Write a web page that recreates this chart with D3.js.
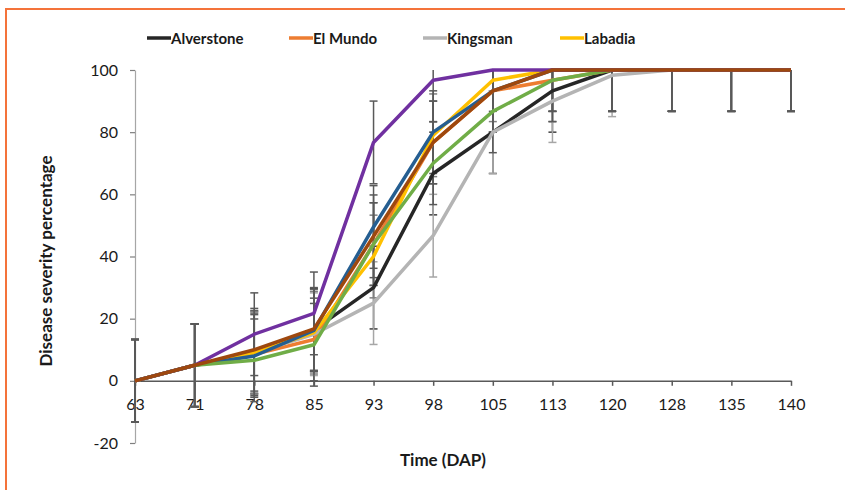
<!DOCTYPE html>
<html>
<head>
<meta charset="utf-8">
<script src="https://cdn.jsdelivr.net/npm/d3@7"></script>
<style>
  body { margin: 0; background: #fff; }
  svg { display: block; font-family: Lato, "Liberation Sans", sans-serif; }
</style>
</head>
<body>
<svg id="chart" width="845" height="490"></svg>
<script>
// days after planting (category axis)
const days = ["63", "71", "78", "85", "93", "98", "105", "113", "120", "128", "135", "140"];

// disease severity (%) per cultivar
const alverstone = [0, 5, 9.3, 16.4, 30, 66.7, 80, 93.3, 100, 100, 100, 100];
const elMundo    = [0, 5, 8.5, 13.3, 44, 76.7, 93.3, 96.7, 100, 100, 100, 100];
const kingsman   = [0, 5, 9, 15, 25, 46.7, 80, 90, 98.3, 100, 100, 100];
const labadia    = [0, 5, 9, 15.5, 40, 79, 96.7, 100, 100, 100, 100, 100];
const blueSeries   = [0, 5, 8, 16.2, 49.5, 80, 93.3, 100, 100, 100, 100, 100];
const greenSeries  = [0, 5, 6.6, 11.6, 44, 70, 86.7, 96.7, 100, 100, 100, 100];
const purpleSeries = [0, 5, 15, 21.7, 76.7, 96.7, 100, 100, 100, 100, 100, 100];
const brownSeries  = [0, 5, 10, 16.7, 46.5, 76.7, 93.3, 100, 100, 100, 100, 100];

// error bar size (+/-) at each day
const errorSize = [13.3, 13.3, 13.3, 13.3, 13.3, 13.3, 13.3, 13.3, 13.3, 13.3, 13.3, 13.3];

const yTicks = [-20, 0, 20, 40, 60, 80, 100];

const series = [
  { name: "Alverstone", values: alverstone, color: "#262626", err: "#404040", legend: true },
  { name: "El Mundo", values: elMundo, color: "#ED7D31", err: "#595959", legend: true },
  { name: "Kingsman", values: kingsman, color: "#B4B4B4", err: "#a6a6a6", legend: true },
  { name: "Labadia", values: labadia, color: "#FFC000", err: "#7f7f7f", legend: true },
  { name: "s5", values: blueSeries, color: "#255E91", err: "#595959", legend: false },
  { name: "s6", values: greenSeries, color: "#70AD47", err: "#595959", legend: false },
  { name: "s7", values: purpleSeries, color: "#7030A0", err: "#595959", legend: false },
  { name: "s8", values: brownSeries, color: "#9E480E", err: "#595959", legend: false }
];

const svg = d3.select("#chart");

// orange frame
svg.append("path")
  .attr("d", "M6,492 L6,9 L847,9")
  .attr("fill", "none")
  .attr("stroke", "#F4733A")
  .attr("stroke-width", 2);

const x = d3.scalePoint().domain(days).range([135, 791]);
const y = d3.scaleLinear().domain([-20, 100]).range([443, 70]);

svg.append("clipPath").attr("id", "plot")
  .append("rect")
  .attr("x", 120).attr("y", y(100)).attr("width", 700).attr("height", y(-20) - y(100));

// y axis
const yAxis = svg.append("g")
  .attr("transform", "translate(135,0)")
  .call(d3.axisLeft(y).tickValues(yTicks).tickFormat(d => String(d))
    .tickSize(5).tickPadding(12).tickSizeOuter(0));
yAxis.select(".domain").attr("stroke", "#a6a6a6").attr("stroke-width", 1.2);
yAxis.selectAll(".tick line").attr("stroke", "#7f7f7f").attr("stroke-width", 1.2);
yAxis.selectAll("text").attr("font-size", 16).attr("fill", "#1a1a1a")
  .attr("font-family", "Lato, sans-serif");

// x axis at zero
const xAxis = svg.append("g")
  .attr("transform", `translate(0,${y(0)})`)
  .call(d3.axisBottom(x).tickSize(5).tickPadding(13).tickSizeOuter(0));
xAxis.select(".domain").attr("stroke", "#595959").attr("stroke-width", 1.5);
xAxis.selectAll(".tick line").attr("stroke", "#595959").attr("stroke-width", 1.5);
xAxis.selectAll("text").attr("font-size", 16).attr("fill", "#1a1a1a")
  .attr("font-family", "Lato, sans-serif");

// error bars
const errG = svg.append("g").attr("clip-path", "url(#plot)");
series.forEach(s => {
  s.values.forEach((v, i) => {
    const cx = x(days[i]);
    const top = y(v + errorSize[i]), bot = y(v - errorSize[i]);
    errG.append("line")
      .attr("x1", cx).attr("x2", cx).attr("y1", top).attr("y2", bot)
      .attr("stroke", s.err).attr("stroke-width", 1.5);
    [top, bot].forEach(cy => {
      errG.append("line")
        .attr("x1", cx - 4).attr("x2", cx + 4).attr("y1", cy).attr("y2", cy)
        .attr("stroke", s.err).attr("stroke-width", 1.5);
    });
  });
});

// lines
const line = d3.line()
  .x((d, i) => x(days[i]))
  .y(d => y(d));

series.forEach(s => {
  svg.append("path")
    .datum(s.values)
    .attr("d", line)
    .attr("fill", "none")
    .attr("stroke", s.color)
    .attr("stroke-width", 3.5)
    .attr("stroke-linejoin", "round");
});

// legend
const legendX = [147, 289, 423, 560];
series.filter(s => s.legend).forEach((s, i) => {
  const g = svg.append("g").attr("transform", `translate(${legendX[i]},38)`);
  g.append("line")
    .attr("x1", 0).attr("x2", 24).attr("y1", 0).attr("y2", 0)
    .attr("stroke", s.color).attr("stroke-width", 3.5);
  g.append("text")
    .attr("x", 24).attr("y", 5.5)
    .attr("font-size", 15).attr("font-weight", "bold").attr("fill", "#1a1a1a")
    .text(s.name);
});

// axis titles
svg.append("text")
  .attr("x", 443).attr("y", 466)
  .attr("text-anchor", "middle")
  .attr("font-size", 17).attr("font-weight", "bold").attr("fill", "#1a1a1a")
  .text("Time (DAP)");

svg.append("text")
  .attr("transform", "translate(52,261) rotate(-90)")
  .attr("text-anchor", "middle")
  .attr("font-size", 17).attr("font-weight", "bold").attr("fill", "#1a1a1a")
  .text("Disease severity percentage");
</script>
</body>
</html>
